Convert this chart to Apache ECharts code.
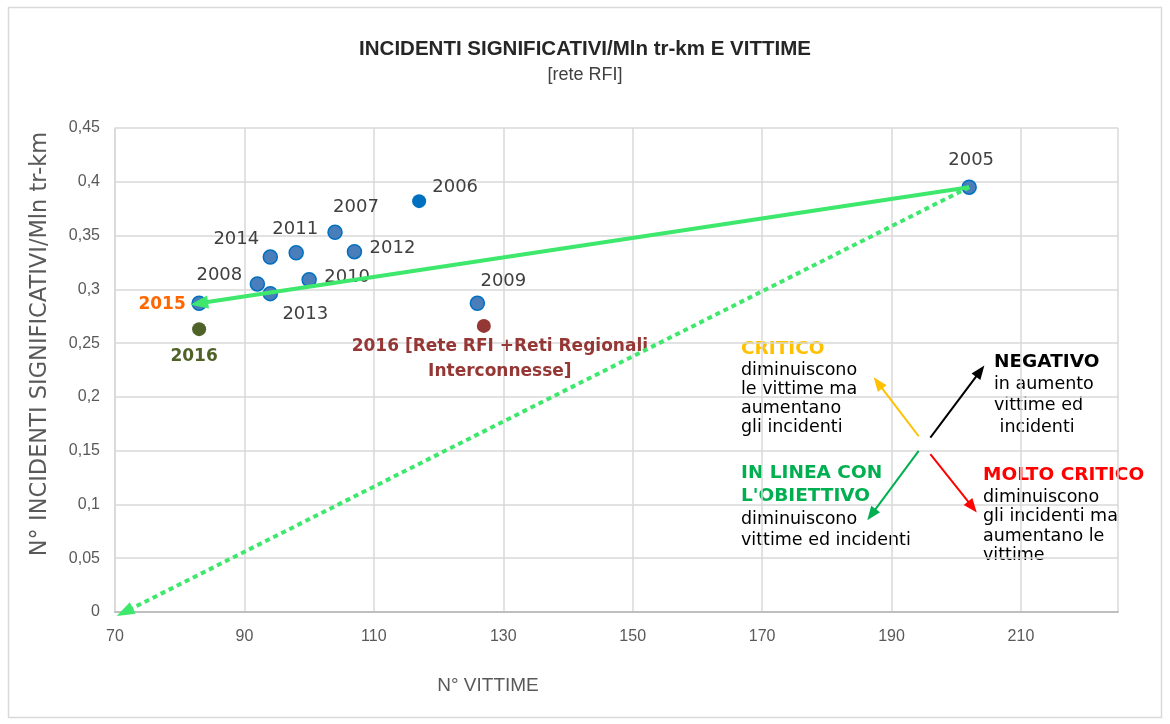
<!DOCTYPE html>
<html>
<head>
<meta charset="utf-8">
<script src="https://cdn.jsdelivr.net/npm/echarts@6/dist/echarts.min.js"></script>
<style>
  html, body { margin: 0; padding: 0; background: #fff; }
  #chart { width: 1170px; height: 724px; }
</style>
</head>
<body>
<div id="chart"></div>
<script>
// data
const years = ['2005', '2006', '2007', '2008', '2009', '2010', '2011', '2012', '2013', '2014', '2015', '2016', '2016 RFI+RR'];
const vittime = [202, 117, 104, 92, 126, 100, 98, 107, 94, 94, 83, 83, 127];
const incidenti = [0.395, 0.382, 0.353, 0.305, 0.287, 0.309, 0.334, 0.335, 0.296, 0.330, 0.287, 0.263, 0.266];
const pointLabels = ['2005', '2006', '2007', '2008', '2009', '2010', '2011', '2012', '2013', '2014', '2015', '2016',
  '2016 [Rete RFI +Reti Regionali\nInterconnesse]'];
const xTicks = [70, 90, 110, 130, 150, 170, 190, 210];
const yTicks = [0, 0.05, 0.1, 0.15, 0.2, 0.25, 0.3, 0.35, 0.4, 0.45];
const trendTarget = [71.5, 0];
// quadrant legend arrows (data coords): critico, negativo, in linea, molto critico
const arrowStart = [[194.2, 0.1634], [196.0, 0.1622], [194.2, 0.1498], [196.0, 0.1467]];
const arrowEnd = [[187.9, 0.213], [203.7, 0.224], [186.9, 0.0906], [202.5, 0.0977]];

const NARROW = '"Liberation Sans Narrow", "Liberation Sans", sans-serif';
const WIDE = '"DejaVu Sans", Verdana, sans-serif';
const GREEN = '#3de86c';

// label placement / colour per point
const labelOffsets = {
  '2005': [2, -27], '2006': [36, -14], '2007': [21, -25], '2008': [-38, -9],
  '2009': [26, -22], '2010': [38, -2], '2011': [-1, -23], '2012': [38, -3],
  '2013': [35, 21], '2014': [-34, -18], '2015': [-37, 1], '2016': [-5, 27],
  '2016 RFI+RR': [16, 33]
};

function pointStyle(y) {
  if (y === '2006') return { color: '#0070c0', opacity: 1 };
  if (y === '2016') return { color: '#4f6228', opacity: 1 };
  if (y === '2016 RFI+RR') return { color: '#953735', opacity: 1 };
  return { color: '#4a7ebb', borderColor: '#0070c0', borderWidth: 1.5, opacity: 1 };
}
function labelStyle(y) {
  if (y === '2015') return { color: '#ff6600', fontWeight: 'bold', fontSize: 17 };
  if (y === '2016') return { color: '#4f6228', fontWeight: 'bold', fontSize: 17 };
  if (y === '2016 RFI+RR') return { color: '#953735', fontWeight: 'bold', fontSize: 17, lineHeight: 25, align: 'center' };
  return { color: '#404040', fontSize: 18 };
}

const points = years.map((y, i) => ({
  value: [vittime[i], incidenti[i]],
  itemStyle: pointStyle(y),
  label: Object.assign({
    show: true, position: 'inside', offset: labelOffsets[y],
    formatter: pointLabels[i], fontFamily: WIDE
  }, labelStyle(y))
}));

const i2005 = years.indexOf('2005');
const i2015 = years.indexOf('2015');
const arrowColors = ['#ffc000', '#000000', '#00b050', '#ff0000'];

const markLines = [
  [{ coord: [vittime[i2005], incidenti[i2005]] },
   { coord: [vittime[i2015], incidenti[i2015]], lineStyle: { color: GREEN, width: 4, type: 'solid' }, symbolSize: [13, 18] }],
  [{ coord: [vittime[i2005], incidenti[i2005]] },
   { coord: trendTarget, lineStyle: { color: GREEN, width: 4, type: [5, 4] }, symbolSize: [13, 18] }]
].concat(arrowStart.map((s, k) => [
  { coord: s },
  { coord: arrowEnd[k], lineStyle: { color: arrowColors[k], width: 2, type: 'solid' }, symbolSize: [11, 14] }
]));

function txt(x, y, text, opts) {
  return {
    type: 'text', x: x, y: y,
    style: Object.assign({ text: text, fontFamily: WIDE, fontSize: 17.5, fill: '#000', textVerticalAlign: 'middle' }, opts || {})
  };
}
function head(x, y, text, color) {
  return txt(x, y, text, { fill: color, fontWeight: 'bold', fontSize: 18.5 });
}
function block(x, y, lines, step) {
  return lines.map((l, k) => txt(x, y + k * step, l));
}

const chart = echarts.init(document.getElementById('chart'));
chart.setOption({
  animation: false,
  backgroundColor: '#fff',
  title: {
    text: 'INCIDENTI SIGNIFICATIVI/Mln tr-km E VITTIME',
    subtext: '[rete RFI]',
    left: 'center',
    top: 34,
    itemGap: 6,
    textStyle: { fontFamily: NARROW, fontSize: 20.5, fontWeight: 'bold', color: '#262626' },
    subtextStyle: { fontFamily: NARROW, fontSize: 18, color: '#404040' }
  },
  grid: { left: 115, right: 52, top: 128, bottom: 112 },
  xAxis: {
    type: 'value',
    min: xTicks[0], max: 225, interval: 20,
    axisLine: { show: true, onZero: false, lineStyle: { color: '#bfbfbf', width: 2 } },
    axisTick: { show: false },
    splitLine: { lineStyle: { color: '#d9d9d9', width: 1.5 } },
    axisLabel: {
      margin: 17, fontFamily: NARROW, fontSize: 16, color: '#595959',
      showMaxLabel: false,
      formatter: v => xTicks.indexOf(v) >= 0 ? String(v) : ''
    }
  },
  yAxis: {
    type: 'value',
    min: 0, max: yTicks[yTicks.length - 1], interval: 0.05,
    axisLine: { show: true, lineStyle: { color: '#d9d9d9', width: 1.5 } },
    axisTick: { show: false },
    splitLine: { lineStyle: { color: '#d9d9d9', width: 1.5 } },
    axisLabel: {
      margin: 15, fontFamily: NARROW, fontSize: 16, color: '#595959',
      formatter: v => String(Math.round(v * 100) / 100).replace('.', ',')
    }
  },
  series: [{
    type: 'scatter',
    symbolSize: 14,
    data: points,
    z: 3,
    markLine: {
      silent: true,
      symbol: ['none', 'triangle'],
      label: { show: false },
      emphasis: { disabled: true },
      data: markLines
    }
  }],
  graphic: [
    { type: 'rect', shape: { x: 8.5, y: 7.5, width: 1153, height: 710 },
      style: { fill: 'none', stroke: '#d9d9d9', lineWidth: 1.5 }, silent: true },
    { type: 'text', x: 40, y: 344, rotation: Math.PI / 2,
      style: { text: 'N° INCIDENTI SIGNIFICATIVI/Mln tr-km', fontFamily: WIDE, fontSize: 22.5, fill: '#595959',
        textAlign: 'center', textVerticalAlign: 'middle' } },
    { type: 'text', x: 488, y: 686,
      style: { text: 'N° VITTIME', fontFamily: NARROW, fontSize: 19, fill: '#595959',
        textAlign: 'center', textVerticalAlign: 'middle' } },
    head(741, 349, 'CRITICO', '#ffc000'),
    ...block(741, 370, ['diminuiscono', 'le vittime ma', 'aumentano', 'gli incidenti'], 19),
    head(994, 362, 'NEGATIVO', '#000000'),
    ...block(994, 384, ['in aumento', 'vittime ed', ' incidenti'], 21.5),
    head(741, 473, 'IN LINEA CON', '#00b050'),
    head(741, 496, "L'OBIETTIVO", '#00b050'),
    ...block(741, 519, ['diminuiscono', 'vittime ed incidenti'], 21.5),
    head(983, 475, 'MOLTO CRITICO', '#ff0000'),
    ...block(983, 497, ['diminuiscono', 'gli incidenti ma', 'aumentano le', 'vittime'], 19.5)
  ]
});
</script>
</body>
</html>
